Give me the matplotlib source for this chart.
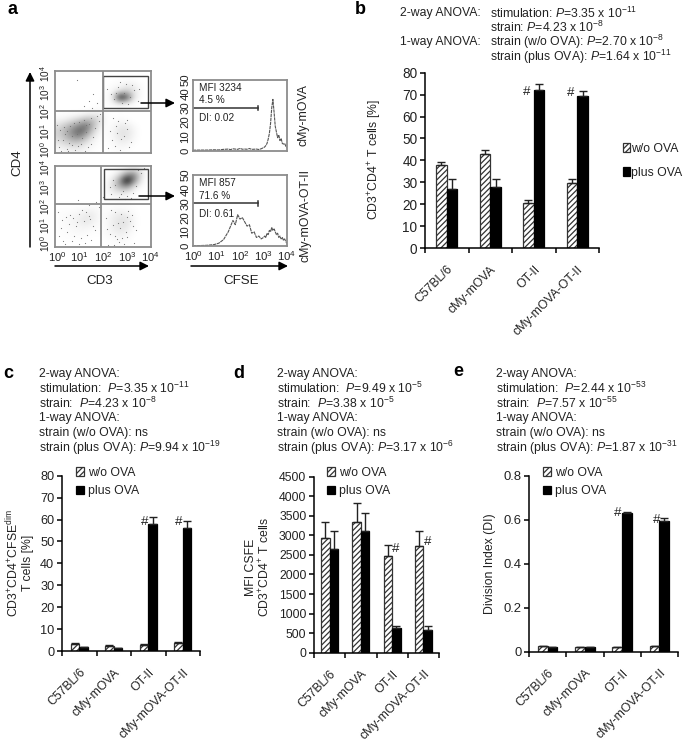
import numpy as np
import matplotlib
matplotlib.use("Agg")
import matplotlib.pyplot as plt

plt.rcParams["font.family"] = ["Liberation Sans", "DejaVu Sans"]
plt.rcParams["mathtext.fontset"] = "custom"
plt.rcParams["mathtext.rm"] = "Liberation Sans"
plt.rcParams["mathtext.it"] = "Liberation Sans:italic"
plt.rcParams["mathtext.default"] = "regular"
plt.rcParams["hatch.linewidth"] = 0.9
plt.rcParams["hatch.color"] = "#444444"

W, H = 685, 747
TXT = "#222222"
GATE = "#8c8c8c"

strains = ["C57BL/6", "cMy-mOVA", "OT-II", "cMy-mOVA-OT-II"]

b_wo = [37.7, 42.7, 20.5, 29.5]
b_wo_err = [1.6, 2.0, 1.3, 2.2]
b_plus = [27.0, 28.0, 72.3, 69.5]
b_plus_err = [4.3, 3.5, 2.7, 2.2]

c_wo = [3.2, 2.5, 2.7, 3.5]
c_wo_err = [0.3, 0.2, 0.3, 0.8]
c_plus = [1.8, 1.4, 58.0, 56.0]
c_plus_err = [0.2, 0.1, 3.3, 3.5]

d_wo = [2920, 3340, 2460, 2740]
d_wo_err = [430, 500, 300, 370]
d_plus = [2650, 3100, 620, 590]
d_plus_err = [450, 470, 60, 100]

e_wo = [0.025, 0.022, 0.020, 0.025]
e_wo_err = [0.001, 0.001, 0.001, 0.001]
e_plus = [0.020, 0.020, 0.632, 0.595]
e_plus_err = [0.001, 0.001, 0.003, 0.012]

# darkness, rows from the top, 14 x 14 cells
dots_top = [
    [0, 0, 0, 0, 0, 0, 0, 0, 0, 0, 0, 0, 0, 0],
    [0, 0, 0, 0, 0, 0, 0, 0, 0, .01, .02, .01, 0, 0],
    [0, 0, 0, 0, 0, 0, 0, 0, .02, .03, .07, .06, .02, 0],
    [0, 0, 0, 0, 0, 0, 0, .01, .04, .12, .22, .10, .02, 0],
    [0, 0, 0, 0, 0, 0, 0, .02, .07, .90, .65, .10, .02, 0],
    [0, 0, 0, 0, 0, 0, .01, .01, .04, .08, .05, .02, 0, 0],
    [0, 0, 0, 0, 0, .01, .02, 0, 0, .01, 0, 0, 0, 0],
    [.01, .01, .02, .03, .06, .08, .08, .01, 0, 0, 0, 0, 0, 0],
    [.05, .08, .14, .22, .32, .28, .12, .01, .01, .03, .02, 0, 0, 0],
    [.14, .24, .36, .50, .58, .28, .06, .01, .03, .08, .08, .03, 0, 0],
    [.18, .30, .46, .62, .44, .16, .03, .01, .04, .11, .11, .04, 0, 0],
    [.14, .24, .34, .38, .22, .07, .01, .01, .03, .09, .09, .03, 0, 0],
    [.08, .13, .16, .16, .08, .03, .01, 0, .02, .05, .04, .01, 0, 0],
    [.02, .04, .05, .05, .03, .01, 0, 0, .01, .02, .01, 0, 0, 0],
]
dots_bottom = [
    [0, 0, 0, 0, 0, 0, 0, 0, 0, .02, .04, .08, .06, .02],
    [0, 0, 0, 0, 0, 0, 0, 0, .03, .14, .45, .50, .12, .01],
    [0, 0, 0, 0, 0, 0, 0, .01, .10, .42, 1.0, .50, .07, 0],
    [0, 0, 0, 0, 0, 0, 0, .02, .13, .34, .45, .12, .02, 0],
    [0, 0, 0, 0, 0, 0, 0, .02, .07, .10, .07, .02, 0, 0],
    [0, 0, 0, 0, 0, 0, 0, .01, .02, .03, .02, .01, 0, 0],
    [0, 0, 0, 0, 0, 0, .01, .01, .01, .01, .01, 0, 0, 0],
    [.01, .01, .01, .02, .03, .04, .02, .01, .02, .03, .02, .01, 0, 0],
    [.01, .02, .03, .05, .08, .08, .02, .02, .06, .09, .07, .02, 0, 0],
    [.01, .02, .04, .06, .10, .06, .02, .02, .07, .11, .11, .03, 0, 0],
    [.01, .02, .03, .04, .05, .03, .01, .02, .07, .11, .09, .02, 0, 0],
    [.01, .01, .02, .03, .02, .01, .01, .02, .05, .07, .05, .01, 0, 0],
    [0, .01, .01, .01, .01, 0, 0, .01, .02, .04, .02, 0, 0, 0],
    [0, 0, 0, 0, 0, 0, 0, 0, .01, .01, .01, 0, 0, 0],
]

# single events picked out of the dot plots
events_top_x = [0.15, 0.32, 0.51, 0.72, 0.94, 1.12, 1.31, 1.48, 1.66, 1.82, 0.22, 0.41, 0.63, 0.85,
                1.05, 1.23, 1.41, 1.59, 0.11, 0.37, 0.58, 0.79, 1.01, 1.19, 0.27, 0.48, 0.69, 0.9,
                1.1, 1.29, 1.52, 1.74, 1.88, 0.08, 0.55, 1.36,
                2.2, 2.38, 2.55, 2.71, 2.86, 3.02, 3.18, 2.31, 2.49, 2.64, 2.93, 3.1, 2.42, 2.77, 2.59, 2.99,
                2.45, 2.62, 2.78, 2.95, 3.12, 3.3, 3.44, 2.7, 3.05, 2.34, 2.88, 3.22, 3.52, 2.56,
                1.2, 1.42, 1.6, 1.75, 0.9, 2.15, 1.55]
events_top_y = [0.28, 0.62, 0.19, 0.84, 0.35, 0.71, 1.02, 0.42, 1.24, 1.56, 1.12, 0.91, 1.33, 0.14,
                1.18, 0.09, 1.41, 0.77, 0.64, 1.28, 0.51, 1.47, 1.52, 1.62, 0.12, 1.06, 0.38, 0.95,
                0.44, 1.39, 1.7, 1.82, 1.91, 1.38, 0.08, 0.3,
                0.22, 0.61, 1.32, 0.14, 0.83, 1.18, 0.52, 1.05, 0.36, 1.58, 1.44, 0.27, 1.72, 0.68, 0.98, 1.61,
                2.62, 3.22, 2.44, 3.38, 2.71, 3.08, 2.52, 3.48, 2.38, 2.86, 2.93, 3.3, 3.14, 2.95,
                2.3, 2.55, 2.9, 2.42, 3.55, 3.1, 2.18]
events_bottom_x = [0.12, 0.35, 0.58, 0.81, 1.02, 1.24, 1.46, 1.68, 0.24, 0.46, 0.7, 0.92, 1.13, 1.35,
                   1.57, 0.16, 0.4, 0.64, 0.87, 1.08, 1.3, 1.52, 0.3, 0.52, 0.76, 0.98, 1.19, 1.41,
                   2.12, 2.3, 2.48, 2.66, 2.84, 3.02, 3.2, 3.38, 2.22, 2.4, 2.58, 2.76, 2.94, 3.12,
                   3.3, 2.16, 2.34, 2.52, 2.7, 2.88, 3.06, 3.24, 2.44, 2.62, 2.8, 2.98,
                   2.35, 2.5, 2.66, 2.82, 3.0, 3.25, 3.45, 3.6, 2.42, 2.75, 3.15, 3.38, 3.7, 2.28, 2.92,
                   1.72, 1.85, 2.0, 0.95, 1.4]
events_bottom_y = [1.74, 0.32, 1.12, 0.55, 1.62, 0.21, 1.38, 0.84, 0.94, 1.48, 0.28, 1.22, 1.82, 0.61,
                   1.06, 0.52, 0.14, 1.58, 1.02, 0.42, 1.71, 0.34, 1.34, 0.72, 1.42, 0.16, 1.28, 1.55,
                   1.44, 0.62, 1.72, 0.24, 1.22, 0.48, 1.56, 0.86, 0.12, 1.08, 0.38, 1.64, 0.74, 1.3,
                   0.22, 0.88, 1.84, 0.54, 0.94, 0.16, 1.78, 1.02, 0.08, 1.18, 0.42, 1.46,
                   2.62, 3.04, 2.46, 2.78, 2.52, 2.66, 3.82, 3.66, 3.3, 2.6, 2.42, 3.02, 3.9, 2.95, 2.38,
                   2.2, 1.98, 2.45, 2.3, 2.05]

# CFSE histograms
cfse_x = [0.0, 0.3, 0.6, 0.9, 1.1, 1.3, 1.5, 1.6, 1.7, 1.8, 1.9, 2.0, 2.1, 2.2,
          2.3, 2.4, 2.5, 2.6, 2.7, 2.8, 2.9, 3.0, 3.05, 3.1, 3.15, 3.2, 3.25,
          3.3, 3.35, 3.4, 3.45, 3.5, 3.55, 3.6, 3.65, 3.7, 3.75, 3.8, 3.85,
          3.9, 3.95, 4.0]
cfse_top = [0.2, 0.3, 0.3, 0.5, 0.4, 0.8, 1.0, 0.6, 1.2, 1.0, 0.8, 1.5, 0.9, 1.0,
            0.9, 1.4, 0.8, 0.9, 1.0, 0.7, 1.2, 2.0, 2.5, 3.5, 5.0, 8.0, 12.0,
            19.0, 30.0, 36.0, 27.0, 17.0, 13.0, 9.0, 11.0, 7.0, 8.5, 5.0, 4.5,
            5.0, 3.0, 2.0]
cfse_bottom = [0.2, 0.3, 0.5, 1.0, 2.0, 4.5, 10.0, 14.0, 18.0, 15.0, 22.0, 19.0, 20.0, 17.0,
               14.0, 15.0, 9.0, 10.0, 6.0, 7.0, 5.0, 6.0, 7.0, 6.0, 9.0, 8.0, 11.0,
               10.0, 13.0, 11.0, 12.0, 10.0, 8.0, 9.0, 6.0, 7.0, 5.0, 6.0, 4.0,
               5.0, 3.0, 2.0]

flow_ticks_y = [0.15, 1.05, 2.0, 2.95, 3.9]
flow_ticks_x = [0.1, 1.0, 2.0, 3.0, 3.95]

fig = plt.figure(figsize=(W / 100, H / 100), dpi=100)


def fx(x):
    return x / W


def fy(y):
    return 1 - y / H


def add_axes(x0, x1, y_top, y_bottom):
    return fig.add_axes([fx(x0), fy(y_bottom), (x1 - x0) / W, (y_bottom - y_top) / H])


def label(x, y, s, size=8.8, **kw):
    kw.setdefault("ha", "left")
    kw.setdefault("va", "center")
    kw.setdefault("color", TXT)
    fig.text(fx(x), fy(y), s, fontsize=size, **kw)


def arrow(x0, y0, x1, y1):
    fig.add_artist(matplotlib.patches.FancyArrowPatch(
        (fx(x0), fy(y0)), (fx(x1), fy(y1)), transform=fig.transFigure,
        arrowstyle="-|>", mutation_scale=13, lw=1.1, color="black",
        shrinkA=0, shrinkB=0))


def flow_box(ax):
    for s in ax.spines.values():
        s.set_color(GATE)
        s.set_linewidth(1.3)
    ax.tick_params(length=0, labelsize=7.2, labelcolor=TXT, pad=2)


def dot_plot(y_top, y_bottom, grid, ev_x, ev_y, vgate, hgate, rect, arrow_y, arrow_x, show_x):
    ax = add_axes(55, 151, y_top, y_bottom)
    ax.imshow(np.array(grid), cmap="gray_r", vmin=0, vmax=1, extent=[0, 4, 0, 4],
              interpolation="bicubic", aspect="auto")
    ax.scatter(ev_x, ev_y, s=0.7, color="#777777", linewidths=0)
    ax.axvline(vgate, color=GATE, lw=1.3)
    ax.axhline(hgate, color=GATE, lw=1.3)
    ax.add_patch(plt.Rectangle((rect[0], rect[1]), rect[2], rect[3], fill=False,
                               ec="#444444", lw=1.0))
    ax.set_xlim(0, 4)
    ax.set_ylim(0, 4)
    flow_box(ax)
    ax.set_yticks(flow_ticks_y)
    ax.set_yticklabels([f"$10^{i}$" for i in range(5)], rotation=90, va="center")
    ax.set_xticks(flow_ticks_x)
    ax.set_xticklabels([f"$10^{i}$" for i in range(5)] if show_x else [], fontsize=8)
    arrow(arrow_x, arrow_y, 175, arrow_y)


def cfse_hist(y_top, y_bottom, counts, info, show_x):
    ax = add_axes(193, 287, y_top, y_bottom)
    ax.plot(cfse_x, counts, color="#555555", lw=0.8, ls=(0, (3, 0.6)))
    ax.plot([0, 2.78], [30, 30], color="#333333", lw=1.1)
    ax.plot([2.78, 2.78], [28.5, 31.5], color="#333333", lw=1.1)
    ax.set_xlim(0, 4)
    ax.set_ylim(0, 50)
    flow_box(ax)
    ax.set_yticks(range(0, 51, 10))
    ax.set_yticklabels(range(0, 51, 10), rotation=90, va="center", fontsize=8.2)
    ax.set_xticks(range(5))
    ax.set_xticklabels([f"$10^{i}$" for i in range(5)] if show_x else [], fontsize=8.2)
    for s, yy in info:
        label(199, yy, s, size=7.2)


def bar_panel(x0, x1, y_top, y_bottom, wo, wo_err, plus, plus_err, ymax, yticks, width,
              tick_size, ticklabels=None):
    ax = add_axes(x0, x1, y_top, y_bottom)
    pos = np.arange(4)
    wo_bars = ax.bar(pos - width / 2, wo, width, color="white", edgecolor="#333333",
                     linewidth=0.9, hatch="//////")
    plus_bars = ax.bar(pos + width / 2, plus, width, color="black", edgecolor="black",
                       linewidth=0.9)
    ax.errorbar(pos - width / 2, wo, yerr=[[0] * 4, wo_err], fmt="none", ecolor="#222222",
                elinewidth=1.0, capsize=2.6, capthick=1.0)
    ax.errorbar(pos + width / 2, plus, yerr=[[0] * 4, plus_err], fmt="none", ecolor="#222222",
                elinewidth=1.0, capsize=2.6, capthick=1.0)
    ax.set_xlim(-0.5, 3.5)
    ax.set_ylim(0, ymax)
    ax.spines["top"].set_visible(False)
    ax.spines["right"].set_visible(False)
    ax.spines["left"].set_linewidth(1.1)
    ax.spines["bottom"].set_linewidth(1.1)
    ax.set_yticks(yticks)
    ax.set_yticklabels(ticklabels if ticklabels else yticks)
    ax.tick_params(axis="y", labelsize=tick_size, labelcolor=TXT, length=3.5, width=1.1, pad=2)
    ax.set_xticks([-0.5, 0.5, 1.5, 2.5, 3.5])
    ax.set_xticklabels([])
    ax.tick_params(axis="x", which="major", length=3.5, width=1.1)
    ax.set_xticks(pos, minor=True)
    ax.set_xticklabels(strains, minor=True, rotation=45, ha="right", va="top",
                       rotation_mode="anchor", fontsize=8.8, color=TXT)
    ax.tick_params(axis="x", which="minor", length=0, pad=11)
    return wo_bars, plus_bars


def legend(bars, x, y, spacing, pad=0.3):
    fig.legend(bars, ["w/o OVA", "plus OVA"], loc="upper left",
               bbox_to_anchor=(fx(x), fy(y)), frameon=False, fontsize=8.8,
               handlelength=0.65, handleheight=0.7, handletextpad=pad,
               labelspacing=spacing, borderpad=0, borderaxespad=0, labelcolor=TXT)


def anova(x, lines):
    for i, s in enumerate(lines):
        label(x, 374 + i * 14.7, s)


# panel a
label(7, 10, "a", size=13, fontweight="bold", color="black")
dot_plot(71, 153, dots_top, events_top_x, events_top_y, 2.0, 2.05,
         (2.02, 2.2, 1.84, 1.55), 103, 141, False)
dot_plot(166, 247, dots_bottom, events_bottom_x, events_bottom_y, 1.9, 2.1,
         (2.05, 2.35, 1.83, 1.5), 196, 139, True)
cfse_hist(79.5, 150.5, cfse_top, [("MFI 3234", 88), ("4.5 %", 100), ("DI: 0.02", 118)], False)
cfse_hist(175, 246, cfse_bottom, [("MFI 857", 183), ("71.6 %", 196), ("DI: 0.61", 214)], True)
arrow(30, 247, 30, 72)
arrow(55, 266, 149, 266)
arrow(191, 266, 288, 266)
label(17, 163, "CD4", size=9.6, rotation=90, ha="center")
label(100, 281, "CD3", size=9.6, ha="center")
label(241, 281, "CFSE", size=9.6, ha="center")
label(304, 115, "cMy-mOVA", size=8.8, rotation=90, ha="center")
label(306, 216, "cMy-mOVA-OT-II", size=8.8, rotation=90, ha="center")

# panel b
label(355, 9, "b", size=13, fontweight="bold", color="black")
for yy, left, right in [
    (13, "2-way ANOVA:", "stimulation: $\\mathit{P}$=3.35 x 10$^{-11}$"),
    (27, "", "strain: $\\mathit{P}$=4.23 x 10$^{-8}$"),
    (42, "1-way ANOVA:", "strain (w/o OVA): $\\mathit{P}$=2.70 x 10$^{-8}$"),
    (57, "", "strain (plus OVA): $\\mathit{P}$=1.64 x 10$^{-11}$"),
]:
    if left:
        label(400, yy, left)
    label(490, yy, right)
bars = bar_panel(425, 599, 72.7, 248, b_wo, b_wo_err, b_plus, b_plus_err, 80,
                 list(range(0, 81, 10)), 0.245, 9.8)
legend(bars, 622.5, 143, 0.95, pad=0.05)
label(375, 160, "CD3$^{+}$CD4$^{+}$ T cells [%]", rotation=90, ha="center")
label(526.7, 92, "#", size=9.6, ha="center")
label(570.7, 93, "#", size=9.6, ha="center")

# panel c
label(3, 373, "c", size=13, fontweight="bold", color="black")
anova(39, ["2-way ANOVA:",
           "stimulation:  $\\mathit{P}$=3.35 x 10$^{-11}$",
           "strain:  $\\mathit{P}$=4.23 x 10$^{-8}$",
           "1-way ANOVA:",
           "strain (w/o OVA): ns",
           "strain (plus OVA): $\\mathit{P}$=9.94 x 10$^{-19}$"])
bars = bar_panel(62, 200, 475.7, 651, c_wo, c_wo_err, c_plus, c_plus_err, 80,
                 list(range(0, 81, 10)), 0.25, 9.2)
legend(bars, 76, 467, 0.5)
label(13, 563, "CD3$^{+}$CD4$^{+}$CFSE$^{dim}$", rotation=90, ha="center")
label(28, 563, "T cells [%]", rotation=90, ha="center")
label(145, 522, "#", size=9.6, ha="center")
label(179, 522, "#", size=9.6, ha="center")

# panel d
label(233, 373, "d", size=13, fontweight="bold", color="black")
anova(277, ["2-way ANOVA:",
            "stimulation:  $\\mathit{P}$=9.49 x 10$^{-5}$",
            "strain:  $\\mathit{P}$=3.38 x 10$^{-5}$",
            "1-way ANOVA:",
            "strain (w/o OVA): ns",
            "strain (plus OVA): $\\mathit{P}$=3.17 x 10$^{-6}$"])
bars = bar_panel(314, 439, 476.7, 652.7, d_wo, d_wo_err, d_plus, d_plus_err, 4500,
                 list(range(0, 4501, 500)), 0.27, 8.8)
legend(bars, 327, 467, 0.5)
label(251, 567, "MFI CSFE", rotation=90, ha="center")
label(265, 567, "CD3$^{+}$CD4$^{+}$ T cells", rotation=90, ha="center")
label(396, 549, "#", size=9.6, ha="center")
label(428, 542, "#", size=9.6, ha="center")

# panel e
label(453, 372, "e", size=13, fontweight="bold", color="black")
anova(496, ["2-way ANOVA:",
            "stimulation:  $\\mathit{P}$=2.44 x 10$^{-53}$",
            "strain:  $\\mathit{P}$=7.57 x 10$^{-55}$",
            "1-way ANOVA:",
            "strain (w/o OVA): ns",
            "strain (plus OVA): $\\mathit{P}$=1.87 x 10$^{-31}$"])
bars = bar_panel(529, 678, 476, 651.7, e_wo, e_wo_err, e_plus, e_plus_err, 0.8,
                 [0, 0.2, 0.4, 0.6, 0.8], 0.26, 9.4, ["0", "0.2", "0.4", "0.6", "0.8"])
legend(bars, 543, 467, 0.5)
label(490, 564, "Division Index (DI)", rotation=90, ha="center")
label(617.7, 513, "#", size=9.6, ha="center")
label(656.7, 520, "#", size=9.6, ha="center")

fig.savefig("out.png", dpi=100)
